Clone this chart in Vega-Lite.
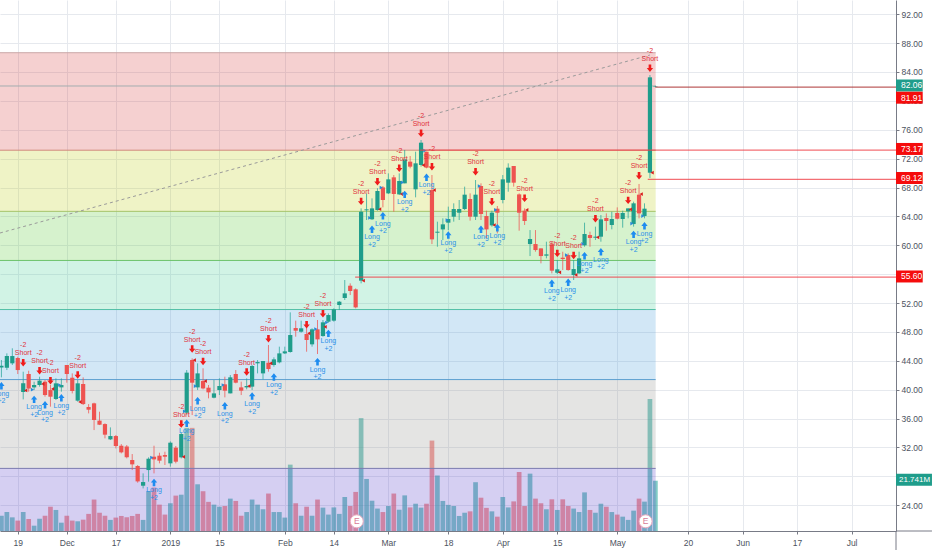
{
  "$schema": "https://vega.github.io/schema/vega-lite/v6.json",
  "width": 896,
  "height": 531,
  "autosize": "none",
  "padding": {"left": 0, "top": 0, "right": 36, "bottom": 19},
  "background": "white",
  "config": {"view": {"stroke": null}, "text": {"font": "Liberation Sans"}, "scale": {"continuousPadding": 0}},
  "datasets": {
    "bands": [
      {"zone": "z1", "top": 86.67, "bottom": 82.06},
      {"zone": "z2", "top": 82.06, "bottom": 73.17},
      {"zone": "z3", "top": 73.17, "bottom": 64.7},
      {"zone": "z4", "top": 64.7, "bottom": 57.9},
      {"zone": "z5", "top": 57.9, "bottom": 51.1},
      {"zone": "z6", "top": 51.1, "bottom": 41.4},
      {"zone": "z7", "top": 41.4, "bottom": 29.1},
      {"zone": "z8", "top": 29.1, "bottom": 20.43}
    ],
    "levels": [
      {"zone": "z1", "price": 86.67},
      {"zone": "z2", "price": 82.06},
      {"zone": "z3", "price": 73.17},
      {"zone": "z4", "price": 64.7},
      {"zone": "z5", "price": 57.9},
      {"zone": "z6", "price": 51.1},
      {"zone": "z7", "price": 41.4},
      {"zone": "z8", "price": 29.1}
    ],
    "trend": [
      {"i": -0.26, "price": 61.7},
      {"i": 119, "price": 86.35}
    ],
    "candles": [
      {"i":0,"open":43.09,"high":44.11,"low":41.71,"close":43.32,"volume":6.6},
      {"i":1,"open":43.05,"high":45.03,"low":42.72,"close":44.66,"volume":8.2},
      {"i":2,"open":43.65,"high":45.73,"low":43.42,"close":44.66,"volume":5.9},
      {"i":3,"open":44.39,"high":44.57,"low":42.17,"close":42.72,"volume":4.5},
      {"i":4,"open":39.68,"high":42.49,"low":38.66,"close":40.88,"volume":8.2},
      {"i":5,"open":42.17,"high":42.63,"low":39.72,"close":40.18,"volume":5.2},
      {"i":6,"open":40.32,"high":41.11,"low":39.95,"close":40.65,"volume":2.3},
      {"i":7,"open":40.65,"high":41.8,"low":40.42,"close":41.25,"volume":5.3},
      {"i":8,"open":41.11,"high":41.34,"low":39.03,"close":39.26,"volume":6.6},
      {"i":9,"open":39.95,"high":40.65,"low":37.65,"close":39.03,"volume":10.5},
      {"i":10,"open":38.71,"high":41.57,"low":38.57,"close":40.88,"volume":9.1},
      {"i":11,"open":40.32,"high":41.57,"low":39.72,"close":40.65,"volume":3.6},
      {"i":12,"open":43.42,"high":43.42,"low":40.97,"close":42.17,"volume":6.6},
      {"i":13,"open":41.66,"high":42.26,"low":39.49,"close":39.82,"volume":4.5},
      {"i":14,"open":38.48,"high":41.34,"low":38.34,"close":40.88,"volume":4.2},
      {"i":15,"open":40.79,"high":41.71,"low":37.88,"close":38.01,"volume":4.9},
      {"i":16,"open":37.6,"high":38.01,"low":36.72,"close":37.23,"volume":7.4},
      {"i":17,"open":38.11,"high":38.2,"low":34.41,"close":35.8,"volume":13.6},
      {"i":18,"open":35.71,"high":36.95,"low":35.1,"close":35.15,"volume":7.9},
      {"i":19,"open":35.24,"high":35.34,"low":33.26,"close":33.77,"volume":6.6},
      {"i":20,"open":33.12,"high":34.78,"low":33.03,"close":33.58,"volume":4.8},
      {"i":21,"open":33.58,"high":33.72,"low":31.87,"close":32.2,"volume":5.8},
      {"i":22,"open":32.24,"high":32.47,"low":31.18,"close":31.32,"volume":6.5},
      {"i":23,"open":32.15,"high":32.34,"low":30.49,"close":30.63,"volume":5.9},
      {"i":24,"open":30.26,"high":31.09,"low":28.87,"close":29.66,"volume":6.5},
      {"i":25,"open":29.43,"high":29.57,"low":27.12,"close":27.3,"volume":7.4},
      {"i":26,"open":26.7,"high":28.41,"low":26.33,"close":27.21,"volume":4.8},
      {"i":27,"open":28.87,"high":30.63,"low":27.26,"close":30.44,"volume":17.3},
      {"i":28,"open":30.72,"high":32.24,"low":28.41,"close":30.35,"volume":18.8},
      {"i":29,"open":30.86,"high":31.27,"low":29.8,"close":30.17,"volume":11.4},
      {"i":30,"open":30.95,"high":31.41,"low":29.57,"close":30.72,"volume":7.1},
      {"i":31,"open":29.8,"high":32.84,"low":29.34,"close":32.66,"volume":12},
      {"i":32,"open":31.97,"high":32.2,"low":29.8,"close":30.03,"volume":15.3},
      {"i":33,"open":30.63,"high":34.04,"low":30.49,"close":33.86,"volume":15.7},
      {"i":34,"open":36.81,"high":42.72,"low":36.49,"close":42.36,"volume":44.6},
      {"i":35,"open":44.11,"high":44.34,"low":36.49,"close":40.97,"volume":44.6},
      {"i":36,"open":40.32,"high":43.65,"low":39.95,"close":42.26,"volume":20.2},
      {"i":37,"open":41.2,"high":42.96,"low":40.05,"close":40.18,"volume":17.2},
      {"i":38,"open":40.28,"high":40.65,"low":38.8,"close":39.63,"volume":12.6},
      {"i":39,"open":38.89,"high":41.34,"low":38.8,"close":39.49,"volume":11.4},
      {"i":40,"open":39.95,"high":41.57,"low":39.26,"close":40.51,"volume":10.5},
      {"i":41,"open":40.74,"high":41.8,"low":38.94,"close":39.86,"volume":10.8},
      {"i":42,"open":39.49,"high":42.03,"low":39.49,"close":41.71,"volume":14},
      {"i":43,"open":42.17,"high":42.72,"low":40.88,"close":40.97,"volume":13},
      {"i":44,"open":40.32,"high":41.11,"low":39.26,"close":39.86,"volume":6.6},
      {"i":45,"open":40.32,"high":41.57,"low":40.05,"close":40.51,"volume":8.2},
      {"i":46,"open":40.42,"high":43.42,"low":39.95,"close":43.28,"volume":13.6},
      {"i":47,"open":43.65,"high":44.11,"low":42.26,"close":43.83,"volume":11.4},
      {"i":48,"open":42.26,"high":43.97,"low":41.43,"close":43.97,"volume":9.4},
      {"i":49,"open":43.74,"high":46.19,"low":42.49,"close":42.86,"volume":16.2},
      {"i":50,"open":43.42,"high":44.48,"low":43.19,"close":44.2,"volume":8.2},
      {"i":51,"open":43.79,"high":45.96,"low":43.65,"close":45.03,"volume":8.2},
      {"i":52,"open":45.03,"high":45.96,"low":44.94,"close":45.31,"volume":5.8},
      {"i":53,"open":45.22,"high":50.71,"low":45.13,"close":47.57,"volume":28.7},
      {"i":54,"open":48.54,"high":49.56,"low":47.34,"close":48.17,"volume":12},
      {"i":55,"open":48.03,"high":49.56,"low":47.9,"close":48.5,"volume":6.6},
      {"i":56,"open":47.71,"high":49.42,"low":45.26,"close":46.88,"volume":10.5},
      {"i":57,"open":46.28,"high":48.5,"low":45.96,"close":48.36,"volume":6.6},
      {"i":58,"open":48.36,"high":49.65,"low":44.94,"close":46.97,"volume":13.6},
      {"i":59,"open":47.43,"high":49.65,"low":47.34,"close":49.33,"volume":10.1},
      {"i":60,"open":49.42,"high":50.57,"low":49.28,"close":50.34,"volume":7.1},
      {"i":61,"open":49.56,"high":51.27,"low":49.42,"close":51.13,"volume":10.2},
      {"i":62,"open":51.73,"high":52.28,"low":51.03,"close":52.19,"volume":7.4},
      {"i":63,"open":52.7,"high":55.19,"low":52.42,"close":53.34,"volume":14.7},
      {"i":64,"open":54.4,"high":54.73,"low":53.11,"close":53.67,"volume":10.8},
      {"i":65,"open":53.9,"high":54.03,"low":51.26,"close":51.4,"volume":16.9},
      {"i":66,"open":55.1,"high":65.11,"low":54.73,"close":64.65,"volume":48.8},
      {"i":67,"open":64.84,"high":67.19,"low":63.5,"close":64.98,"volume":22.5},
      {"i":68,"open":63.6,"high":66.5,"low":63.5,"close":65.11,"volume":13.1},
      {"i":69,"open":64.88,"high":67.9,"low":64.79,"close":67.52,"volume":9.7},
      {"i":70,"open":68.02,"high":68.21,"low":65.25,"close":66.27,"volume":8.2},
      {"i":71,"open":67.19,"high":69.96,"low":67.1,"close":69.13,"volume":10.8},
      {"i":72,"open":69.41,"high":69.73,"low":64.65,"close":67.1,"volume":16.2},
      {"i":73,"open":67.05,"high":69.96,"low":66.96,"close":68.9,"volume":9.2},
      {"i":74,"open":68.58,"high":73.2,"low":68.58,"close":71.9,"volume":15.4},
      {"i":75,"open":71.58,"high":72.36,"low":70.66,"close":70.89,"volume":10.2},
      {"i":76,"open":67.75,"high":72.96,"low":66.64,"close":71.35,"volume":11.8},
      {"i":77,"open":71.12,"high":74.58,"low":70.89,"close":74.21,"volume":10.1},
      {"i":78,"open":72.96,"high":72.96,"low":70.66,"close":70.75,"volume":11.8},
      {"i":79,"open":67.65,"high":69.73,"low":60.17,"close":60.82,"volume":39.1},
      {"i":80,"open":61.74,"high":63.27,"low":59.8,"close":61.88,"volume":24},
      {"i":81,"open":62.2,"high":63.73,"low":60.73,"close":62.9,"volume":13},
      {"i":82,"open":63.13,"high":65.35,"low":62.11,"close":63.64,"volume":11.3},
      {"i":83,"open":63.96,"high":65.81,"low":63.27,"close":65.02,"volume":10.8},
      {"i":84,"open":64.51,"high":66.27,"low":63.5,"close":65.02,"volume":6.5},
      {"i":85,"open":65.02,"high":68.12,"low":64.88,"close":67.01,"volume":7.9},
      {"i":86,"open":66.41,"high":67.19,"low":63.41,"close":63.96,"volume":8.5},
      {"i":87,"open":63.96,"high":69.04,"low":63.5,"close":67.01,"volume":21.1},
      {"i":88,"open":68.21,"high":68.58,"low":63.5,"close":64.33,"volume":14.4},
      {"i":89,"open":64.05,"high":64.79,"low":60.96,"close":62.2,"volume":10},
      {"i":90,"open":62.76,"high":64.79,"low":62.58,"close":64.51,"volume":8.5},
      {"i":91,"open":65.07,"high":65.44,"low":61.65,"close":64.51,"volume":6.2},
      {"i":92,"open":66.27,"high":69.73,"low":65.81,"close":69.13,"volume":14.7},
      {"i":93,"open":68.67,"high":71.35,"low":67.42,"close":70.75,"volume":10.2},
      {"i":94,"open":70.98,"high":70.98,"low":68.12,"close":68.67,"volume":12.8},
      {"i":95,"open":67.05,"high":67.19,"low":62.02,"close":64.51,"volume":25.5},
      {"i":96,"open":64.79,"high":65.11,"low":62.81,"close":63.36,"volume":10.8},
      {"i":97,"open":60.17,"high":62.11,"low":58.51,"close":60.87,"volume":24.8},
      {"i":98,"open":60.17,"high":62.11,"low":59.11,"close":59.34,"volume":14},
      {"i":99,"open":59.57,"high":59.57,"low":57.5,"close":58.51,"volume":12},
      {"i":100,"open":58.56,"high":60.5,"low":58.19,"close":58.74,"volume":9.4},
      {"i":101,"open":60.13,"high":60.5,"low":56.11,"close":56.48,"volume":13.7},
      {"i":102,"open":56.2,"high":57.96,"low":56.02,"close":56.67,"volume":9.1},
      {"i":103,"open":58.28,"high":59.11,"low":56.57,"close":58.1,"volume":13.7},
      {"i":104,"open":58.65,"high":58.88,"low":56.48,"close":56.57,"volume":10.8},
      {"i":105,"open":55.88,"high":57.96,"low":55.19,"close":56.71,"volume":9.7},
      {"i":106,"open":56.11,"high":59.11,"low":56.02,"close":58.19,"volume":8.2},
      {"i":107,"open":59.99,"high":63.13,"low":59.8,"close":61.56,"volume":16.7},
      {"i":108,"open":61.42,"high":61.88,"low":59.8,"close":61.01,"volume":9.1},
      {"i":109,"open":61.05,"high":62.58,"low":60.73,"close":61.19,"volume":7.9},
      {"i":110,"open":61.19,"high":64.19,"low":60.5,"close":63.59,"volume":11.8},
      {"i":111,"open":63.78,"high":64.42,"low":62.02,"close":63.36,"volume":10.5},
      {"i":112,"open":62.81,"high":64.65,"low":62.21,"close":63.64,"volume":8.2},
      {"i":113,"open":64.47,"high":65.25,"low":63.59,"close":63.68,"volume":7.1},
      {"i":114,"open":63.64,"high":64.79,"low":62.44,"close":64.47,"volume":6.2},
      {"i":115,"open":64.7,"high":65.11,"low":63.73,"close":65.11,"volume":4.8},
      {"i":116,"open":62.94,"high":66.04,"low":62.58,"close":65.81,"volume":8.8},
      {"i":117,"open":67.01,"high":68.49,"low":63.73,"close":64.42,"volume":14},
      {"i":118,"open":64.05,"high":65.81,"low":63.73,"close":65.07,"volume":12.7},
      {"i":119,"open":70.05,"high":83.58,"low":69.32,"close":83.26,"volume":57.1},
      {"i":120,"open":82,"high":82.1,"low":81.9,"close":82.06,"volume":21.741}
    ],
    "signals": [
      {"i":4,"side":"short","price":43.74,"qty":"-2"},
      {"i":7,"side":"short","price":42.63,"qty":"-2"},
      {"i":9,"side":"short","price":41.25,"qty":"-2"},
      {"i":14,"side":"short","price":42.03,"qty":"-2"},
      {"i":33,"side":"short","price":35.24,"qty":"-2"},
      {"i":35,"side":"short","price":45.63,"qty":"-2"},
      {"i":37,"side":"short","price":43.92,"qty":"-2"},
      {"i":45,"side":"short","price":42.45,"qty":"-2"},
      {"i":49,"side":"short","price":47.06,"qty":"-2"},
      {"i":56,"side":"short","price":49,"qty":"-2"},
      {"i":59,"side":"short","price":50.53,"qty":"-2"},
      {"i":66,"side":"short","price":66.08,"qty":"-2"},
      {"i":69,"side":"short","price":68.8,"qty":"-2"},
      {"i":73,"side":"short","price":70.66,"qty":"-2"},
      {"i":77,"side":"short","price":75.5,"qty":"-2"},
      {"i":79,"side":"short","price":70.89,"qty":"-2"},
      {"i":87,"side":"short","price":70.19,"qty":"-2"},
      {"i":90,"side":"short","price":66.04,"qty":"-2"},
      {"i":96,"side":"short","price":66.5,"qty":"-2"},
      {"i":102,"side":"short","price":58.88,"qty":"-2"},
      {"i":105,"side":"short","price":58.6,"qty":"-2"},
      {"i":109,"side":"short","price":63.68,"qty":"-2"},
      {"i":115,"side":"short","price":66.22,"qty":"-2"},
      {"i":117,"side":"short","price":69.64,"qty":"-2"},
      {"i":119,"side":"short","price":84.51,"qty":"-2"},
      {"i":0,"side":"long","price":40.55,"qty":"+2"},
      {"i":6,"side":"long","price":38.66,"qty":"+2"},
      {"i":8,"side":"long","price":37.92,"qty":"+2"},
      {"i":11,"side":"long","price":38.89,"qty":"+2"},
      {"i":28,"side":"long","price":27.16,"qty":"+2"},
      {"i":34,"side":"long","price":35.34,"qty":"+2"},
      {"i":36,"side":"long","price":38.48,"qty":"+2"},
      {"i":41,"side":"long","price":37.78,"qty":"+2"},
      {"i":46,"side":"long","price":39.12,"qty":"+2"},
      {"i":50,"side":"long","price":41.75,"qty":"+2"},
      {"i":58,"side":"long","price":43.88,"qty":"+2"},
      {"i":60,"side":"long","price":47.8,"qty":"+2"},
      {"i":68,"side":"long","price":62.21,"qty":"+2"},
      {"i":70,"side":"long","price":64.1,"qty":"+2"},
      {"i":74,"side":"long","price":67.05,"qty":"+2"},
      {"i":78,"side":"long","price":69.41,"qty":"+2"},
      {"i":82,"side":"long","price":61.42,"qty":"+2"},
      {"i":88,"side":"long","price":62.21,"qty":"+2"},
      {"i":91,"side":"long","price":62.44,"qty":"+2"},
      {"i":101,"side":"long","price":54.73,"qty":"+2"},
      {"i":104,"side":"long","price":54.87,"qty":"+2"},
      {"i":107,"side":"long","price":58.56,"qty":"+2"},
      {"i":110,"side":"long","price":59.11,"qty":"+2"},
      {"i":116,"side":"long","price":61.51,"qty":"+2"},
      {"i":118,"side":"long","price":62.71,"qty":"+2"}
    ],
    "fills": [
      {"i":4.45,"side":"short","price":39.9},
      {"i":7.6,"side":"short","price":40.8},
      {"i":9.4,"side":"short","price":40.1},
      {"i":14.4,"side":"short","price":38.3},
      {"i":33.4,"side":"short","price":30.7},
      {"i":35.4,"side":"short","price":44.1},
      {"i":37.4,"side":"short","price":41.2},
      {"i":45.4,"side":"short","price":40.5},
      {"i":49.4,"side":"short","price":43.65},
      {"i":56.4,"side":"short","price":47.8},
      {"i":59.4,"side":"short","price":48.7},
      {"i":66.4,"side":"short","price":55.1},
      {"i":69.4,"side":"short","price":65},
      {"i":73.4,"side":"short","price":67.1},
      {"i":77.4,"side":"short","price":71.1},
      {"i":79.4,"side":"short","price":67.65},
      {"i":90.4,"side":"short","price":62.8},
      {"i":96.4,"side":"short","price":64.9},
      {"i":102.4,"side":"short","price":56.25},
      {"i":105.4,"side":"short","price":55.9},
      {"i":109.4,"side":"short","price":61.1},
      {"i":115.4,"side":"short","price":64.97},
      {"i":117.4,"side":"short","price":67.1},
      {"i":119.4,"side":"short","price":70.05},
      {"i":5.7,"side":"long","price":40},
      {"i":10.7,"side":"long","price":40.65},
      {"i":27.6,"side":"long","price":30.6},
      {"i":33.6,"side":"long","price":37},
      {"i":35.6,"side":"long","price":40.5},
      {"i":40.7,"side":"long","price":40.65},
      {"i":57.7,"side":"long","price":48.4},
      {"i":59.7,"side":"long","price":49.3},
      {"i":67.6,"side":"long","price":63.8},
      {"i":69.7,"side":"long","price":68},
      {"i":73.6,"side":"long","price":68.7},
      {"i":77.7,"side":"long","price":73.1},
      {"i":81.8,"side":"long","price":63.5},
      {"i":87.7,"side":"long","price":68.2},
      {"i":90.7,"side":"long","price":64.9},
      {"i":103.7,"side":"long","price":58.65},
      {"i":106.7,"side":"long","price":60.2},
      {"i":115.7,"side":"long","price":63},
      {"i":117.7,"side":"long","price":64.05}
    ],
    "earnings": [
      {"i": 65.2, "price": 21.77, "label": "E"},
      {"i": 118.2, "price": 21.77, "label": "E"}
    ],
    "hlines": [
      {"kind": "stop", "from": 120, "price": 81.91},
      {"kind": "level", "from": 76.8, "price": 73.17},
      {"kind": "level", "from": 118.6, "price": 69.12},
      {"kind": "level", "from": 64.9, "price": 55.6}
    ],
    "tags": [
      {"kind": "last", "label": "82.06", "center": 82.13, "top": 82.96, "bottom": 81.3},
      {"kind": "level", "label": "81.91", "center": 80.44, "top": 81.27, "bottom": 79.61},
      {"kind": "level", "label": "73.17", "center": 73.34, "top": 74.17, "bottom": 72.51},
      {"kind": "level", "label": "69.12", "center": 69.32, "top": 70.15, "bottom": 68.49},
      {"kind": "level", "label": "55.60", "center": 55.68, "top": 56.51, "bottom": 54.85}
    ],
    "volumeTag": [
      {"label": "21.741M", "center": 27.53, "top": 28.36, "bottom": 26.7}
    ],
    "frame": [
      {"price": 20.43, "end": 17.8}
    ]
  },
  "resolve": {"scale": {"y": "independent"}},
  "layer": [
    {
      "data": {"name": "candles"},
      "mark": {"type": "bar", "orient": "vertical", "size": 4.7, "opacity": 0.58},
      "encoding": {
        "x": {
          "field": "i",
          "type": "quantitative",
          "scale": {"domain": [-0.26, 164.15], "nice": false, "zero": false, "padding": 0},
          "axis": {
            "title": null,
            "orient": "bottom",
            "values": [3, 12, 21, 31, 40, 52, 61, 71, 82, 92, 102, 113, 126, 136, 146, 156],
            "tickCount": 30,
            "labelExpr": "{'3':'19','12':'Dec','21':'17','31':'2019','40':'15','52':'Feb','61':'14','71':'Mar','82':'18','92':'Apr','102':'15','113':'May','126':'20','136':'Jun','146':'17','156':'Jul'}[datum.value]",
            "grid": true,
            "gridColor": "#e6e9ee",
            "domainColor": "#787b86",
            "tickColor": "#787b86",
            "tickSize": 3,
            "labelFont": "Liberation Sans",
            "labelFontSize": 8.5,
            "labelColor": "#4c525e",
            "labelPadding": 4,
            "labelOverlap": false
          }
        },
        "y": {
          "field": "volume",
          "type": "quantitative",
          "axis": null,
          "scale": {"domain": [0, 229.6], "nice": false}
        },
        "color": {
          "condition": {"test": "datum.close >= datum.open", "value": "#26a69a"},
          "value": "#ef5350"
        }
      }
    },
    {
      "layer": [
        {
          "data": {"name": "bands"},
          "mark": {"type": "rect", "opacity": 0.25},
          "encoding": {
            "x": {"datum": -0.26, "type": "quantitative", "title": null},
            "x2": {"datum": 120.05},
            "y": {
              "field": "top",
              "type": "quantitative",
              "scale": {"domain": [20.43, 93.97], "nice": false, "zero": false},
              "axis": {
                "title": null,
                "orient": "right",
                "values": [24, 28, 32, 36, 40, 44, 48, 52, 56, 60, 64, 68, 72, 76, 80, 84, 88, 92],
                "tickCount": 30,
                "format": ".2f",
                "grid": true,
                "gridColor": "#e6e9ee",
                "domainColor": "#787b86",
                "tickColor": "#787b86",
                "tickSize": 3,
                "labelFont": "Liberation Sans",
                "labelFontSize": 8.5,
                "labelColor": "#4c525e",
                "labelPadding": 2,
                "labelOverlap": false
              }
            },
            "y2": {"field": "bottom"},
            "fill": {
              "field": "zone",
              "type": "nominal",
              "legend": null,
              "scale": {
                "domain": ["z1", "z2", "z3", "z4", "z5", "z6", "z7", "z8"],
                "range": ["#d74343", "#d74343", "#bfcf1b", "#5bcb37", "#47cf97", "#4b9fdb", "#93938f", "#573fcb"]
              }
            }
          }
        },
        {
          "data": {"name": "levels"},
          "mark": {"type": "rule", "strokeWidth": 1},
          "encoding": {
            "x": {"datum": -0.26, "type": "quantitative", "title": null},
            "x2": {"datum": 120.05},
            "y": {"field": "price", "type": "quantitative"},
            "stroke": {
              "field": "zone",
              "type": "nominal",
              "legend": null,
              "scale": {
                "domain": ["z1", "z2", "z3", "z4", "z5", "z6", "z7", "z8"],
                "range": ["#c9a8a8", "#a3adb0", "#d08a7a", "#a6c46a", "#6cc26c", "#52bfa6", "#5a9fd0", "#7c7cb0"]
              }
            }
          }
        },
        {
          "data": {"name": "trend"},
          "mark": {"type": "line", "stroke": "#9a9a9a", "strokeWidth": 1, "strokeDash": [3, 3]},
          "encoding": {
            "x": {"field": "i", "type": "quantitative", "title": null},
            "y": {"field": "price", "type": "quantitative"}
          }
        },
        {
          "data": {"name": "candles"},
          "mark": {"type": "rule", "strokeWidth": 1, "opacity": 0.75},
          "encoding": {
            "x": {"field": "i", "type": "quantitative", "title": null},
            "y": {"field": "high", "type": "quantitative"},
            "y2": {"field": "low"},
            "color": {
              "condition": {"test": "datum.close >= datum.open", "value": "#26a69a"},
              "value": "#ef5350"
            }
          }
        },
        {
          "data": {"name": "candles"},
          "mark": {"type": "bar", "orient": "vertical", "size": 4.2},
          "encoding": {
            "x": {"field": "i", "type": "quantitative", "title": null},
            "y": {"field": "open", "type": "quantitative"},
            "y2": {"field": "close"},
            "color": {
              "condition": {"test": "datum.close >= datum.open", "value": "#1f9d8b"},
              "value": "#ee5350"
            }
          }
        },
        {
          "data": {"name": "fills"},
          "transform": [{"filter": "datum.side == 'short'"}],
          "mark": {"type": "point", "shape": "triangle-left", "filled": true, "size": 14, "opacity": 1, "color": "#d81e1e"},
          "encoding": {
            "x": {"field": "i", "type": "quantitative", "title": null},
            "y": {"field": "price", "type": "quantitative"}
          }
        },
        {
          "data": {"name": "fills"},
          "transform": [{"filter": "datum.side == 'long'"}],
          "mark": {"type": "point", "shape": "triangle-right", "filled": true, "size": 14, "opacity": 1, "color": "#2a8ad8"},
          "encoding": {
            "x": {"field": "i", "type": "quantitative", "title": null},
            "y": {"field": "price", "type": "quantitative"}
          }
        },
        {
          "data": {"name": "signals"},
          "transform": [{"filter": "datum.side == 'short'"}],
          "mark": {"type": "point", "shape": "M-0.35,-1L-0.35,-0.05L-0.85,-0.05L0,1L0.85,-0.05L0.35,-0.05L0.35,-1Z", "filled": true, "size": 56, "opacity": 1, "color": "#f01c1c"},
          "encoding": {
            "x": {"field": "i", "type": "quantitative", "title": null},
            "y": {"field": "price", "type": "quantitative"}
          }
        },
        {
          "data": {"name": "signals"},
          "transform": [{"filter": "datum.side == 'long'"}],
          "mark": {"type": "point", "shape": "M-0.35,1L-0.35,0.05L-0.85,0.05L0,-1L0.85,0.05L0.35,0.05L0.35,1Z", "filled": true, "size": 56, "opacity": 1, "color": "#1e8cf0"},
          "encoding": {
            "x": {"field": "i", "type": "quantitative", "title": null},
            "y": {"field": "price", "type": "quantitative"}
          }
        },
        {
          "data": {"name": "signals"},
          "transform": [{"filter": "datum.side == 'short'"}],
          "mark": {"type": "text", "dy": -9.5, "fontSize": 7, "color": "#e0323c", "text": "Short"},
          "encoding": {
            "x": {"field": "i", "type": "quantitative", "title": null},
            "y": {"field": "price", "type": "quantitative"}
          }
        },
        {
          "data": {"name": "signals"},
          "transform": [{"filter": "datum.side == 'short'"}],
          "mark": {"type": "text", "dy": -17.5, "fontSize": 7, "color": "#e0323c"},
          "encoding": {
            "x": {"field": "i", "type": "quantitative", "title": null},
            "y": {"field": "price", "type": "quantitative"},
            "text": {"field": "qty"}
          }
        },
        {
          "data": {"name": "signals"},
          "transform": [{"filter": "datum.side == 'long'"}],
          "mark": {"type": "text", "dy": 8, "fontSize": 7, "color": "#2a90e8", "text": "Long"},
          "encoding": {
            "x": {"field": "i", "type": "quantitative", "title": null},
            "y": {"field": "price", "type": "quantitative"}
          }
        },
        {
          "data": {"name": "signals"},
          "transform": [{"filter": "datum.side == 'long'"}],
          "mark": {"type": "text", "dy": 15.5, "fontSize": 7, "color": "#2a90e8"},
          "encoding": {
            "x": {"field": "i", "type": "quantitative", "title": null},
            "y": {"field": "price", "type": "quantitative"},
            "text": {"field": "qty"}
          }
        },
        {
          "data": {"name": "earnings"},
          "mark": {"type": "point", "shape": "circle", "filled": true, "size": 170, "opacity": 1, "fill": "white", "stroke": "#eba9bd", "strokeWidth": 1},
          "encoding": {
            "x": {"field": "i", "type": "quantitative", "title": null},
            "y": {"field": "price", "type": "quantitative"}
          }
        },
        {
          "data": {"name": "earnings"},
          "mark": {"type": "text", "fontSize": 8.5, "color": "#d77a96"},
          "encoding": {
            "x": {"field": "i", "type": "quantitative", "title": null},
            "y": {"field": "price", "type": "quantitative"},
            "text": {"field": "label"}
          }
        },
        {
          "data": {"name": "hlines"},
          "mark": {"type": "rule", "strokeWidth": 1.3, "opacity": 0.75},
          "encoding": {
            "x": {"field": "from", "type": "quantitative", "title": null},
            "x2": {"datum": 164.15},
            "y": {"field": "price", "type": "quantitative"},
            "color": {
              "condition": {"test": "datum.kind == 'stop'", "value": "#a82828"},
              "value": "#ef3f46"
            }
          }
        },
        {
          "data": {"name": "tags"},
          "mark": {"type": "rect"},
          "encoding": {
            "x": {"datum": 164.15, "type": "quantitative", "title": null},
            "x2": {"datum": 169.05},
            "y": {"field": "top", "type": "quantitative"},
            "y2": {"field": "bottom"},
            "color": {
              "condition": {"test": "datum.kind == 'last'", "value": "#1f9d8b"},
              "value": "#f50c0c"
            }
          }
        },
        {
          "data": {"name": "tags"},
          "mark": {"type": "text", "align": "left", "dx": 5, "fontSize": 8.5, "color": "white"},
          "encoding": {
            "x": {"datum": 164.15, "type": "quantitative", "title": null},
            "y": {"field": "center", "type": "quantitative"},
            "text": {"field": "label"}
          }
        },
        {
          "data": {"name": "volumeTag"},
          "mark": {"type": "rect", "color": "#1f9d8b"},
          "encoding": {
            "x": {"datum": 164.15, "type": "quantitative", "title": null},
            "x2": {"datum": 170.75},
            "y": {"field": "top", "type": "quantitative"},
            "y2": {"field": "bottom"}
          }
        },
        {
          "data": {"name": "volumeTag"},
          "mark": {"type": "text", "align": "left", "dx": 3, "fontSize": 8, "color": "white"},
          "encoding": {
            "x": {"datum": 164.15, "type": "quantitative", "title": null},
            "y": {"field": "center", "type": "quantitative"},
            "text": {"field": "label"}
          }
        },
        {
          "data": {"name": "frame"},
          "mark": {"type": "rule", "stroke": "#787b86", "strokeWidth": 1},
          "encoding": {
            "x": {"datum": 164.15, "type": "quantitative", "title": null},
            "x2": {"datum": 170.75},
            "y": {"field": "price", "type": "quantitative"}
          }
        },
        {
          "data": {"name": "frame"},
          "mark": {"type": "rule", "stroke": "#787b86", "strokeWidth": 1},
          "encoding": {
            "x": {"datum": 164.15, "type": "quantitative", "title": null},
            "y": {"field": "price", "type": "quantitative"},
            "y2": {"field": "end"}
          }
        }
      ]
    }
  ]
}
